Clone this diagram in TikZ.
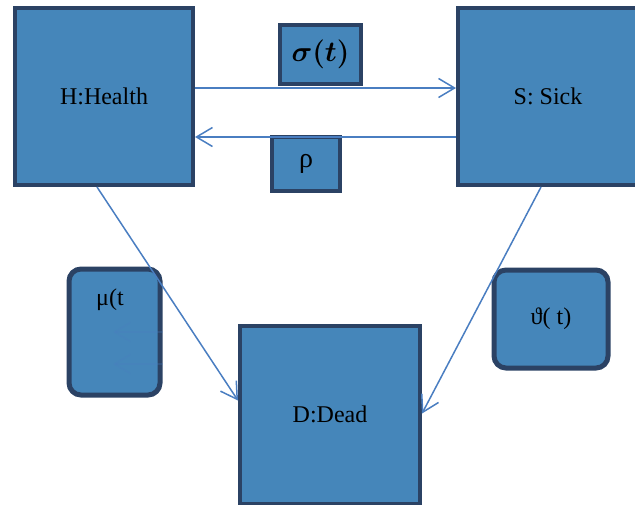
\documentclass[tikz,border=0pt]{standalone}
\usepackage{amsmath}
\usepackage{fontspec}
\setmainfont{Liberation Serif}
\usetikzlibrary{arrows.meta}
\definecolor{boxfill}{RGB}{69,134,186}
\definecolor{boxline}{RGB}{43,66,100}
\definecolor{arrowblue}{RGB}{74,126,193}
\tikzset{
  statebox/.style={rectangle, draw=boxline, fill=boxfill, line width=2pt,
    inner sep=0pt, font=\fontsize{12}{14}\selectfont},
  ratebox/.style={statebox, rounded corners=6pt, line width=2.5pt},
  flow/.style={draw=arrowblue, line width=0.75pt,
    -{Straight Barb[length=8pt,width=9.5pt,line width=0.75pt]}}
}
\begin{document}
\begin{tikzpicture}[x=0.5pt,y=-0.5pt]
        \useasboundingbox (0,0) rectangle (635,504);
        \node[statebox, minimum width=89pt, minimum height=88.5pt] (health)
             at (104,96.5) {H:Health};
        \node[statebox, minimum width=90pt, minimum height=88.5pt] (sick)
             at (548,96.5) {S: Sick};
        \node[statebox, minimum width=90pt, minimum height=89pt] (dead)
             at (330,414.5) {D:Dead};

        \node[statebox, minimum width=40.5pt, minimum height=29.5pt,
             font=\fontsize{15}{18}\selectfont] (sigma)
             at (320.5,54.5) {$\boldsymbol{\sigma(t)}$};
        \node[statebox, minimum width=34pt, minimum height=27pt,
             font=\fontsize{14}{16}\selectfont] (rho)
             at (306,164) {ρ};
        \node[ratebox, minimum width=45.5pt, minimum height=63pt] (mu)
             at (114.5,332) {};
        \node[font=\fontsize{12}{14}\selectfont, inner sep=0pt] (mu-text)
             at (110,300) {μ(t};
        \node[ratebox, minimum width=57pt, minimum height=49pt] (theta)
             at (551,319) {ϑ( t)};

        % faint marks left inside the mu box
        \coordinate (mu-a) at (113,332);
        \coordinate (mu-b) at (113,364);
        \draw[flow, opacity=0.25] (mu.east |- mu-a) -- (mu-a);
        \draw[flow, opacity=0.25] (mu.east |- mu-b) -- (mu-b);

        \draw[flow] ([yshift=4.25pt]health.east) -- ([yshift=4.25pt]sick.west);
        \draw[flow] ([yshift=-20.25pt]sick.west) -- ([yshift=-20.25pt]health.east);
        \draw[flow] ([xshift=-3.5pt]health.south) -- ([yshift=7pt]dead.west);
        \draw[flow] ([xshift=-3.5pt]sick.south) -- ([yshift=0.5pt]dead.east);
      \end{tikzpicture}
\end{document}
